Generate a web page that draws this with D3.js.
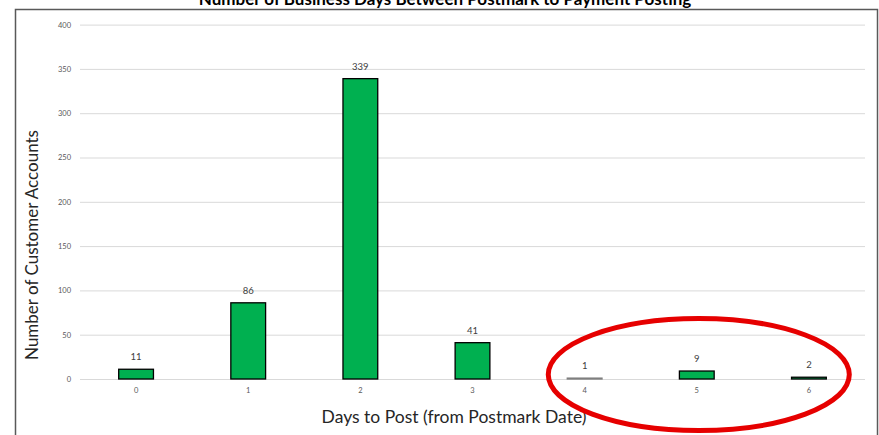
<!DOCTYPE html>
<html>
<head>
<meta charset="utf-8">
<script src="https://cdn.jsdelivr.net/npm/d3@7"></script>
<style>
  body { margin: 0; background: #fff; }
  svg { display: block; font-family: "Lato", "Open Sans", sans-serif; }
</style>
</head>
<body>
<div id="chart"></div>
<script>
// data
var days = ["0", "1", "2", "3", "4", "5", "6"]
var accounts = [11, 86, 339, 41, 1, 9, 2]
var yTicks = [0, 50, 100, 150, 200, 250, 300, 350, 400]
var circled = ["4", "6"]   // annotated range

var width = 879, height = 435
var margin = { top: 24.6, right: 14, bottom: 56, left: 80 }

var svg = d3.select("#chart")
  .append("svg")
  .attr("width", width)
  .attr("height", height)

// chart frame
svg.append("rect")
  .attr("x", 15.5).attr("y", 9.5)
  .attr("width", 862).attr("height", 440)
  .attr("fill", "none")
  .attr("stroke", "#595959")
  .attr("stroke-width", 1.5)

// title (cut off at top of the page, as in the source)
svg.append("text")
  .attr("x", 445).attr("y", 4.5)
  .attr("text-anchor", "middle")
  .style("font-size", "17px")
  .style("font-weight", "bold")
  .attr("fill", "#000")
  .text("Number of Business Days Between Postmark to Payment Posting")

var x = d3.scaleBand()
  .domain(days)
  .range([margin.left, width - margin.right])
  .paddingInner(0.69)
  .paddingOuter(0.345)

var y = d3.scaleLinear()
  .domain([0, 400])
  .range([379, margin.top])

// gridlines + y labels
var yAxis = svg.append("g")
  .attr("transform", "translate(" + margin.left + ",0)")
  .call(d3.axisLeft(y).tickValues(yTicks).tickSize(-(width - margin.right - margin.left)).tickPadding(9))
yAxis.select(".domain").remove()
yAxis.selectAll(".tick line").attr("stroke", "#d9d9d9").attr("stroke-width", 1)
yAxis.selectAll(".tick text")
  .attr("fill", "#595959")
  .style("font-size", "7.5px")
  .style("font-family", "Lato, sans-serif")

// x labels
var xAxis = svg.append("g")
  .attr("transform", "translate(0," + y(0) + ")")
  .call(d3.axisBottom(x).tickSize(0).tickPadding(9))
xAxis.select(".domain").remove()
xAxis.selectAll(".tick text")
  .attr("fill", "#595959")
  .style("font-size", "7.5px")
  .style("font-family", "Lato, sans-serif")

// bars
svg.selectAll(".bar")
  .data(accounts)
  .enter()
  .append("rect")
  .attr("class", "bar")
  .attr("x", function (d, i) { return x(days[i]) })
  .attr("y", function (d) { return y(d) })
  .attr("width", x.bandwidth())
  .attr("height", function (d) { return y(0) - y(d) })
  .attr("fill", "#00b050")
  .attr("stroke", function (d) { return d < 2 ? "#7f7f7f" : "#000" })
  .attr("stroke-width", 1.3)

// value labels
svg.selectAll(".val")
  .data(accounts)
  .enter()
  .append("text")
  .attr("class", "val")
  .attr("x", function (d, i) { return x(days[i]) + x.bandwidth() / 2 })
  .attr("y", function (d) { return y(d) - 9 })
  .attr("text-anchor", "middle")
  .attr("fill", "#404040")
  .style("font-size", "9.5px")
  .text(function (d) { return d })

// axis titles
svg.append("text")
  .attr("x", 454)
  .attr("y", 423)
  .attr("text-anchor", "middle")
  .attr("fill", "#262626")
  .style("font-size", "17.5px")
  .text("Days to Post (from Postmark Date)")

svg.append("text")
  .attr("transform", "translate(38," + 245 + ") rotate(-90)")
  .attr("text-anchor", "middle")
  .attr("fill", "#262626")
  .style("font-size", "17px")
  .text("Number of Customer Accounts")

// red annotation ellipse around days 4-6
var x0 = x(circled[0]), x1 = x(circled[1]) + x.bandwidth()
svg.append("ellipse")
  .attr("cx", (x0 + x1) / 2 + 2)
  .attr("cy", y(5))
  .attr("rx", (x1 - x0) / 2 + 21)
  .attr("ry", 56)
  .attr("fill", "none")
  .attr("stroke", "#e60000")
  .attr("stroke-width", 5)
</script>
</body>
</html>
